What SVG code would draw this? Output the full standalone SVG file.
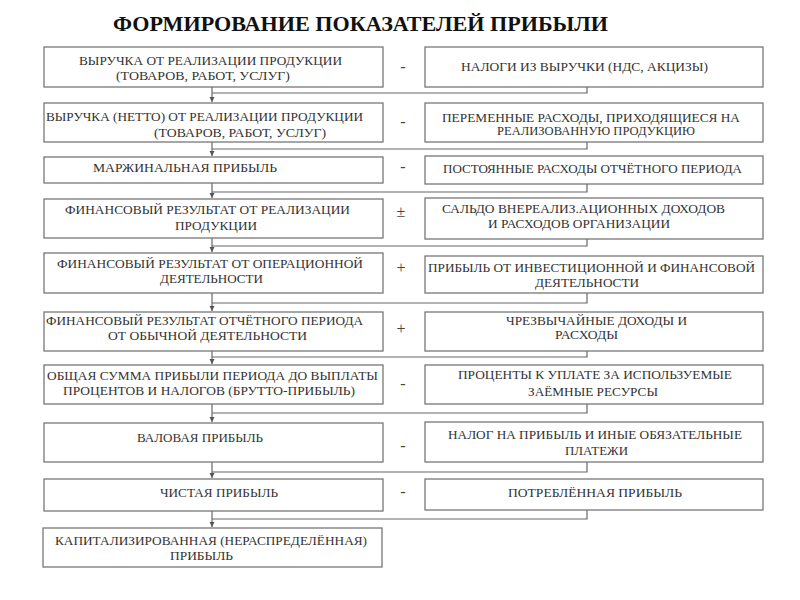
<svg xmlns="http://www.w3.org/2000/svg" width="800" height="600" viewBox="0 0 800 600">
<defs>
<style>
.box{fill:#fff;stroke:#777;stroke-width:1.3}
.t{font-family:"Liberation Serif","DejaVu Serif",serif;font-size:12.5px;fill:#333}
.op{font-family:"Liberation Serif","DejaVu Serif",serif;font-size:16px;fill:#444;text-anchor:middle}
.title{font-family:"Liberation Serif","DejaVu Serif",serif;font-size:22px;font-weight:bold;fill:#111}
.ln{fill:none;stroke:#666;stroke-width:1.2}
</style>
<marker id="ah" markerWidth="6" markerHeight="6" refX="5" refY="3" orient="auto" markerUnits="userSpaceOnUse">
<path d="M0,0.5 L5,3 L0,5.5 Z" fill="#555"/>
</marker>
</defs>
<rect width="800" height="600" fill="#fff"/>
<text class="title" x="113" y="31" textLength="495" lengthAdjust="spacingAndGlyphs">ФОРМИРОВАНИЕ ПОКАЗАТЕЛЕЙ ПРИБЫЛИ</text>

<g id="connectors">
<path class="ln" d="M587,87 V93 H212"/>
<path class="ln" d="M212,87 V102" marker-end="url(#ah)"/>
<path class="ln" d="M587,142 V149 H212"/>
<path class="ln" d="M212,142 V156" marker-end="url(#ah)"/>
<path class="ln" d="M587,184 V192 H212"/>
<path class="ln" d="M212,183 V198" marker-end="url(#ah)"/>
<path class="ln" d="M587,239 V246 H212"/>
<path class="ln" d="M212,238 V252" marker-end="url(#ah)"/>
<path class="ln" d="M587,293 V303 H212"/>
<path class="ln" d="M212,293 V311" marker-end="url(#ah)"/>
<path class="ln" d="M587,351 V357 H212"/>
<path class="ln" d="M212,351 V364" marker-end="url(#ah)"/>
<path class="ln" d="M587,404 V413 H212"/>
<path class="ln" d="M212,404 V422" marker-end="url(#ah)"/>
<path class="ln" d="M587,462 V472 H212"/>
<path class="ln" d="M212,462 V478" marker-end="url(#ah)"/>
<path class="ln" d="M587,510 V519 H212"/>
<path class="ln" d="M212,511 V527" marker-end="url(#ah)"/>
</g>

<g id="n1"><rect class="box" x="44" y="47" width="339" height="40"/>
<text class="t" x="79" y="65" textLength="263" lengthAdjust="spacingAndGlyphs">ВЫРУЧКА ОТ РЕАЛИЗАЦИИ ПРОДУКЦИИ</text>
<text class="t" x="116" y="80" textLength="174" lengthAdjust="spacingAndGlyphs">(ТОВАРОВ, РАБОТ, УСЛУГ)</text></g>
<g id="r1"><rect class="box" x="425" y="47" width="338" height="40"/>
<text class="t" x="461" y="71" textLength="247" lengthAdjust="spacingAndGlyphs">НАЛОГИ ИЗ ВЫРУЧКИ (НДС, АКЦИЗЫ)</text></g>
<text class="op" x="403" y="72">-</text>

<g id="n2"><rect class="box" x="44" y="103" width="339" height="39"/>
<text class="t" x="46" y="121" textLength="317" lengthAdjust="spacingAndGlyphs">ВЫРУЧКА (НЕТТО) ОТ РЕАЛИЗАЦИИ ПРОДУКЦИИ</text>
<text class="t" x="154" y="137" textLength="172" lengthAdjust="spacingAndGlyphs">(ТОВАРОВ, РАБОТ, УСЛУГ)</text></g>
<g id="r2"><rect class="box" x="425" y="103" width="338" height="39"/>
<text class="t" x="442" y="122" textLength="298" lengthAdjust="spacingAndGlyphs">ПЕРЕМЕННЫЕ РАСХОДЫ, ПРИХОДЯЩИЕСЯ НА</text>
<text class="t" x="497" y="135" textLength="198" lengthAdjust="spacingAndGlyphs">РЕАЛИЗОВАННУЮ ПРОДУКЦИЮ</text></g>
<text class="op" x="403" y="127">-</text>

<g id="n3"><rect class="box" x="44" y="157" width="339" height="26"/>
<text class="t" x="93" y="172" textLength="184" lengthAdjust="spacingAndGlyphs">МАРЖИНАЛЬНАЯ  ПРИБЫЛЬ</text></g>
<g id="r3"><rect class="box" x="425" y="156" width="338" height="28"/>
<text class="t" x="443" y="173" textLength="299" lengthAdjust="spacingAndGlyphs">ПОСТОЯННЫЕ РАСХОДЫ ОТЧЁТНОГО ПЕРИОДА</text></g>
<text class="op" x="403" y="172">-</text>

<g id="n4"><rect class="box" x="44" y="199" width="339" height="39"/>
<text class="t" x="65" y="214" textLength="285" lengthAdjust="spacingAndGlyphs">ФИНАНСОВЫЙ РЕЗУЛЬТАТ  ОТ РЕАЛИЗАЦИИ</text>
<text class="t" x="175" y="230" textLength="82" lengthAdjust="spacingAndGlyphs">ПРОДУКЦИИ</text></g>
<g id="r4"><rect class="box" x="425" y="198" width="338" height="41"/>
<text class="t" x="442" y="213" textLength="283" lengthAdjust="spacingAndGlyphs">САЛЬДО ВНЕРЕАЛИЗ.АЦИОННЫХ  ДОХОДОВ</text>
<text class="t" x="488" y="228" textLength="182" lengthAdjust="spacingAndGlyphs">И РАСХОДОВ ОРГАНИЗАЦИИ</text></g>
<text class="op" x="401" y="217">±</text>

<g id="n5"><rect class="box" x="44" y="253" width="339" height="40"/>
<text class="t" x="57" y="268" textLength="306" lengthAdjust="spacingAndGlyphs">ФИНАНСОВЫЙ РЕЗУЛЬТАТ  ОТ ОПЕРАЦИОННОЙ</text>
<text class="t" x="160" y="283" textLength="103" lengthAdjust="spacingAndGlyphs">ДЕЯТЕЛЬНОСТИ</text></g>
<g id="r5"><rect class="box" x="425" y="256" width="338" height="37"/>
<text class="t" x="428" y="272" textLength="327" lengthAdjust="spacingAndGlyphs">ПРИБЫЛЬ ОТ ИНВЕСТИЦИОННОЙ И ФИНАНСОВОЙ</text>
<text class="t" x="535" y="287" textLength="104" lengthAdjust="spacingAndGlyphs">ДЕЯТЕЛЬНОСТИ</text></g>
<text class="op" x="401" y="273">+</text>

<g id="n6"><rect class="box" x="44" y="312" width="339" height="39"/>
<text class="t" x="46" y="325" textLength="317" lengthAdjust="spacingAndGlyphs">ФИНАНСОВЫЙ РЕЗУЛЬТАТ ОТЧЁТНОГО ПЕРИОДА</text>
<text class="t" x="108" y="340" textLength="199" lengthAdjust="spacingAndGlyphs">ОТ ОБЫЧНОЙ  ДЕЯТЕЛЬНОСТИ</text></g>
<g id="r6"><rect class="box" x="425" y="312" width="338" height="39"/>
<text class="t" x="506" y="325" textLength="181" lengthAdjust="spacingAndGlyphs">ЧРЕЗВЫЧАЙНЫЕ ДОХОДЫ И</text>
<text class="t" x="555" y="339" textLength="63" lengthAdjust="spacingAndGlyphs">РАСХОДЫ</text></g>
<text class="op" x="401" y="334">+</text>

<g id="n7"><rect class="box" x="44" y="365" width="339" height="39"/>
<text class="t" x="47" y="380" textLength="331" lengthAdjust="spacingAndGlyphs">ОБЩАЯ СУММА ПРИБЫЛИ ПЕРИОДА ДО ВЫПЛАТЫ</text>
<text class="t" x="63" y="395" textLength="292" lengthAdjust="spacingAndGlyphs">ПРОЦЕНТОВ И НАЛОГОВ  (БРУТТО-ПРИБЫЛЬ)</text></g>
<g id="r7"><rect class="box" x="425" y="365" width="338" height="39"/>
<text class="t" x="458" y="379" textLength="274" lengthAdjust="spacingAndGlyphs">ПРОЦЕНТЫ К УПЛАТЕ ЗА ИСПОЛЬЗУЕМЫЕ</text>
<text class="t" x="528" y="396" textLength="130" lengthAdjust="spacingAndGlyphs">ЗАЁМНЫЕ РЕСУРСЫ</text></g>
<text class="op" x="403" y="389">-</text>

<g id="n8"><rect class="box" x="44" y="423" width="339" height="39"/>
<text class="t" x="137" y="442" textLength="126" lengthAdjust="spacingAndGlyphs">ВАЛОВАЯ ПРИБЫЛЬ</text></g>
<g id="r8"><rect class="box" x="425" y="422" width="338" height="40"/>
<text class="t" x="448" y="439" textLength="294" lengthAdjust="spacingAndGlyphs">НАЛОГ НА ПРИБЫЛЬ И ИНЫЕ ОБЯЗАТЕЛЬНЫЕ</text>
<text class="t" x="565" y="455" textLength="63" lengthAdjust="spacingAndGlyphs">ПЛАТЕЖИ</text></g>
<text class="op" x="403" y="451">-</text>

<g id="n9"><rect class="box" x="44" y="479" width="339" height="32"/>
<text class="t" x="160" y="497" textLength="118" lengthAdjust="spacingAndGlyphs">ЧИСТАЯ ПРИБЫЛЬ</text></g>
<g id="r9"><rect class="box" x="425" y="479" width="338" height="31"/>
<text class="t" x="508" y="497" textLength="174" lengthAdjust="spacingAndGlyphs">ПОТРЕБЛЁННАЯ  ПРИБЫЛЬ</text></g>
<text class="op" x="403" y="497">-</text>

<g id="n10"><rect class="box" x="43" y="528" width="339" height="39"/>
<text class="t" x="55" y="545" textLength="312" lengthAdjust="spacingAndGlyphs">КАПИТАЛИЗИРОВАННАЯ (НЕРАСПРЕДЕЛЁННАЯ)</text>
<text class="t" x="170" y="560" textLength="63" lengthAdjust="spacingAndGlyphs">ПРИБЫЛЬ</text></g>
</svg>
